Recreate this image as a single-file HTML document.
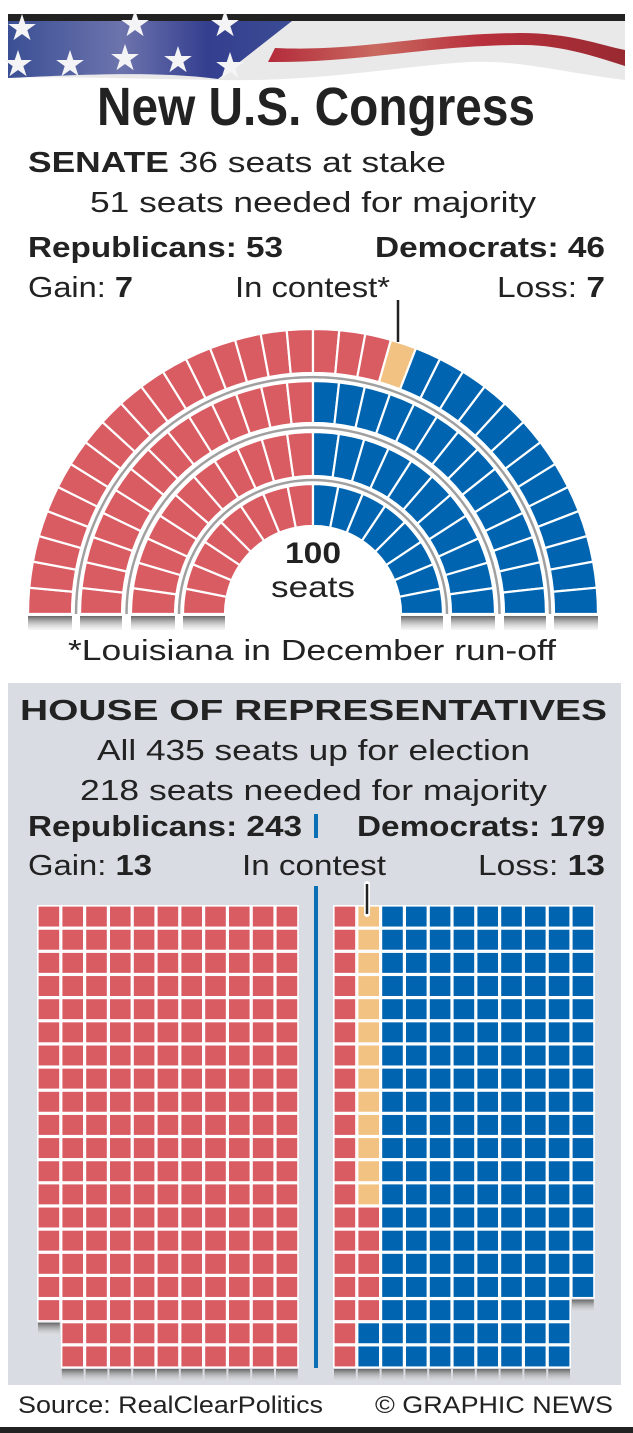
<!DOCTYPE html>
<html><head><meta charset="utf-8"><style>
html,body{margin:0;padding:0;background:#fff;}
svg{display:block;font-family:"Liberation Sans",sans-serif;}
</style></head><body>
<svg id="s" width="633" height="1433" viewBox="0 0 633 1433" xmlns="http://www.w3.org/2000/svg">
<defs>
<linearGradient id="sh" x1="0" y1="0" x2="0" y2="1"><stop offset="0" stop-color="#666"/><stop offset="1" stop-color="#ddd" stop-opacity="0.3"/></linearGradient>
<linearGradient id="bl" x1="0" y1="0" x2="1" y2="0"><stop offset="0" stop-color="#3a4f94"/><stop offset="0.4" stop-color="#6d74ad"/><stop offset="0.7" stop-color="#343f8f"/><stop offset="1" stop-color="#3b4b94"/></linearGradient>
<linearGradient id="rd" x1="0" y1="0" x2="1" y2="0"><stop offset="0" stop-color="#b32a3a"/><stop offset="0.3" stop-color="#c96a60"/><stop offset="0.6" stop-color="#b8303c"/><stop offset="1" stop-color="#992a32"/></linearGradient>
</defs>
<rect x="8" y="14" width="617" height="7" fill="#222"/>
<path d="M8 21 H625 V80 C560 72 520 60 470 62 C400 66 320 82 220 80 C150 79 60 76 8 78 Z" fill="#e9e9ea"/>
<path d="M8 21 H292 L218 79 C150 70 60 76 8 78 Z" fill="url(#bl)"/>
<path d="M275 48 C360 52 420 34 520 33 C570 33 600 45 625 50 V66 C600 58 560 44 520 45 C430 45 360 63 268 62 Z" fill="url(#rd)"/>
<g fill="#f4f4f6" font-size="36" text-anchor="middle">
<text x="22" y="40">★</text><text x="135" y="36">★</text><text x="225" y="36">★</text>
<text x="18" y="76">★</text><text x="70" y="76">★</text><text x="125" y="70">★</text><text x="178" y="72">★</text><text x="230" y="78">★</text>
</g>
<text x="316" y="125" font-size="54" font-weight="bold" fill="#222" text-anchor="middle" textLength="438" lengthAdjust="spacingAndGlyphs">New U.S. Congress</text>
<g fill="#222" font-size="29">
<text x="28" y="172" textLength="418" lengthAdjust="spacingAndGlyphs"><tspan font-weight="bold">SENATE</tspan> 36 seats at stake</text>
<text x="90" y="212" textLength="446" lengthAdjust="spacingAndGlyphs">51 seats needed for majority</text>
<text x="28" y="257" font-weight="bold" textLength="255" lengthAdjust="spacingAndGlyphs">Republicans: 53</text>
<text x="375" y="257" font-weight="bold" textLength="230" lengthAdjust="spacingAndGlyphs">Democrats: 46</text>
<text x="28" y="297" textLength="105" lengthAdjust="spacingAndGlyphs">Gain: <tspan font-weight="bold">7</tspan></text>
<text x="235" y="297" textLength="155" lengthAdjust="spacingAndGlyphs">In contest*</text>
<text x="497" y="297" textLength="108" lengthAdjust="spacingAndGlyphs">Loss: <tspan font-weight="bold">7</tspan></text>
<text x="68" y="660" textLength="488" lengthAdjust="spacingAndGlyphs">*Louisiana in December run-off</text>
</g>
<g id="senate"></g>
<line x1="398" y1="300" x2="398" y2="342" stroke="#222" stroke-width="2.5"/>
<text x="313" y="563" font-size="30" font-weight="bold" fill="#222" text-anchor="middle" textLength="56" lengthAdjust="spacingAndGlyphs">100</text>
<text x="313" y="597" font-size="30" fill="#222" text-anchor="middle" textLength="84" lengthAdjust="spacingAndGlyphs">seats</text>
<rect x="8" y="683" width="613" height="702" fill="#d9dce3"/>
<g fill="#222" font-size="29">
<text x="20" y="720" font-weight="bold" textLength="587" lengthAdjust="spacingAndGlyphs">HOUSE OF REPRESENTATIVES</text>
<text x="97" y="760" textLength="433" lengthAdjust="spacingAndGlyphs">All 435 seats up for election</text>
<text x="80" y="800" textLength="467" lengthAdjust="spacingAndGlyphs">218 seats needed for majority</text>
<text x="28" y="836" font-weight="bold" textLength="274" lengthAdjust="spacingAndGlyphs">Republicans: 243</text>
<text x="357" y="836" font-weight="bold" textLength="248" lengthAdjust="spacingAndGlyphs">Democrats: 179</text>
<text x="28" y="875" textLength="124" lengthAdjust="spacingAndGlyphs">Gain: <tspan font-weight="bold">13</tspan></text>
<text x="242" y="875" textLength="144" lengthAdjust="spacingAndGlyphs">In contest</text>
<text x="478" y="875" textLength="127" lengthAdjust="spacingAndGlyphs">Loss: <tspan font-weight="bold">13</tspan></text>
</g>
<rect x="314" y="814" width="4" height="24" fill="#0b6fb5"/>
<rect x="314" y="886" width="4" height="482" fill="#0b6fb5"/>
<g id="house"></g>
<line x1="367" y1="884" x2="367" y2="914" stroke="#fff" stroke-width="6" stroke-linecap="round"/>
<line x1="367" y1="884" x2="367" y2="914" stroke="#222" stroke-width="2.5"/>
<g fill="#222" font-size="24">
<text x="18" y="1413" textLength="305" lengthAdjust="spacingAndGlyphs">Source: RealClearPolitics</text>
<text x="375" y="1413" textLength="238" lengthAdjust="spacingAndGlyphs">© GRAPHIC NEWS</text>
</g>
<rect x="0" y="1427" width="633" height="6" fill="#222"/>
</svg>
<script>
var NS="http://www.w3.org/2000/svg";
function el(p,t,a){var e=document.createElementNS(NS,t);for(var k in a)e.setAttribute(k,a[k]);p.appendChild(e);return e;}
var R="#d95c62",B="#0064b0",Y="#f2c283";
var sg=document.getElementById("senate");
var cx=313,cy=614;
var rows=[[88,130,16,8,0],[138,182,22,11,0],[191,233,28,14,0],[241,285,34,20,1]];
[134,186.5,237].forEach(function(r){
 el(sg,"path",{d:"M"+(cx-r)+" "+cy+" A"+r+" "+r+" 0 0 1 "+(cx+r)+" "+cy,fill:"none",stroke:"#a0a0a0","stroke-width":2.5});
});
rows.forEach(function(rw){
 var r1=rw[0],r2=rw[1],n=rw[2],nr=rw[3],ny=rw[4];
 for(var i=0;i<n;i++){
  var a1=Math.PI*(1-i/n),a2=Math.PI*(1-(i+1)/n);
  var p=[[cx+r1*Math.cos(a1),cy-r1*Math.sin(a1)],[cx+r2*Math.cos(a1),cy-r2*Math.sin(a1)],[cx+r2*Math.cos(a2),cy-r2*Math.sin(a2)],[cx+r1*Math.cos(a2),cy-r1*Math.sin(a2)]];
  var c=i<nr?R:(i<nr+ny?Y:B);
  el(sg,"path",{d:"M"+p[0]+" L"+p[1]+" A"+r2+" "+r2+" 0 0 1 "+p[2]+" L"+p[3]+" A"+r1+" "+r1+" 0 0 0 "+p[0]+"Z",fill:c,stroke:"#fff","stroke-width":2.2});
 }
 el(sg,"rect",{x:cx-r2,y:cy+2,width:r2-r1,height:14,fill:"url(#sh)"});
 el(sg,"rect",{x:cx+r1,y:cy+2,width:r2-r1,height:14,fill:"url(#sh)"});
});
var hg=document.getElementById("house");
var px=23.8,py=23.15,y0=905;
function cell(x,y,c){el(hg,"rect",{x:x,y:y,width:px,height:py,fill:"#fff"});el(hg,"rect",{x:x+1.6,y:y+1.6,width:px-3.2,height:py-3.2,fill:c});}
function shadow(x,y){el(hg,"rect",{x:x+1,y:y+1,width:px-2,height:12,fill:"url(#sh)"});}
for(var c=0;c<11;c++){var n=c==0?18:20;for(var r=0;r<n;r++)cell(37+c*px,y0+r*py,R);shadow(37+c*px,y0+n*py);}
for(var c=0;c<11;c++){var n=c==10?17:20;for(var r=0;r<n;r++){var col=B;if(c==0)col=R;else if(c==1)col=r<13?Y:(r<18?R:B);cell(333+c*px,y0+r*py,col);}shadow(333+c*px,y0+n*py);}
</script>
</body></html>
